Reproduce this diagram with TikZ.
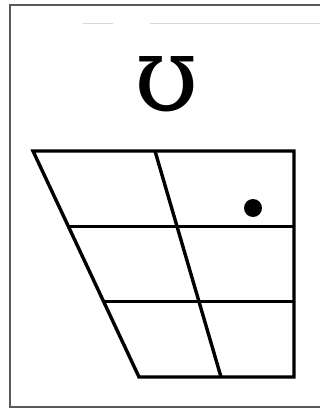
\documentclass[tikz,border=0pt]{standalone}
\usepackage{fontspec}
\newfontfamily\ipafont{DejaVu Serif}
\usetikzlibrary{calc,positioning}

\begin{document}
\begin{tikzpicture}[
    x=1pt, y=-1pt,
    frame/.style={draw=black!65, line width=2.8pt},
    smudge/.style={draw=black!15, line width=1pt},
    grid/.style={draw, line width=3.4pt, line join=miter},
    vowel/.style={circle, fill, inner sep=0pt, minimum size=18pt},
    symbol/.style={inner sep=0pt, font=\ipafont\fontsize{104}{104}\selectfont}
]
    \useasboundingbox (0,0) rectangle (320,409);
    \draw[frame] (330,5) -- (10,5) -- (10,407) -- (330,407);
    \draw[smudge] (83,24) -- (113,24);
    \draw[smudge] (150,24) -- (330,24);

    \node[symbol] (ipa) at (167,84) {ʊ};

    \coordinate (tl) at (33,151);
    \coordinate (tm) at (155,151);
    \coordinate (tr) at (294,151);
    \coordinate (bl) at (139,377);
    \coordinate (bm) at (221,377);
    \coordinate (br) at (294,377);

    \draw[grid] (tl) -- (tr) -- (br) -- (bl) -- cycle;
    \draw[grid] (tm) -- (bm);
    \draw[grid] ($(tl)!1/3!(bl)$) -- ($(tr)!1/3!(br)$);
    \draw[grid] ($(tl)!2/3!(bl)$) -- ($(tr)!2/3!(br)$);

    \node[vowel] (dot) at (253,208) {};
\end{tikzpicture}
\end{document}
